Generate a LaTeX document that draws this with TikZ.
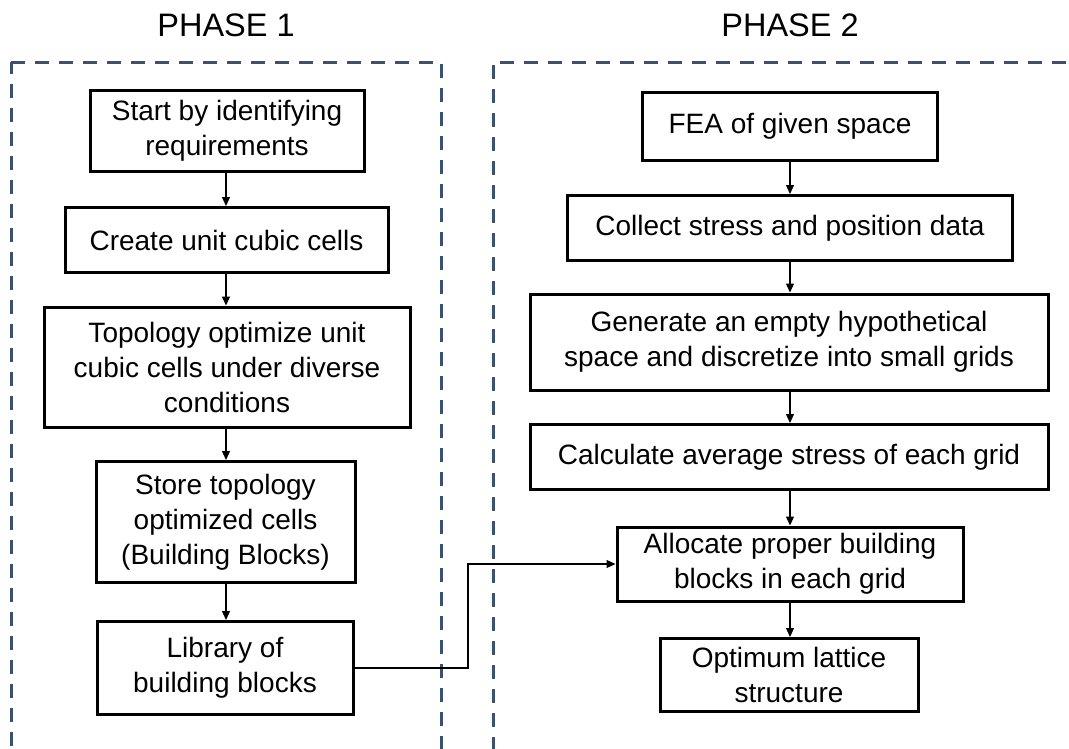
\documentclass[tikz,border=0pt]{standalone}
\usepackage{fontspec}
\setmainfont{Liberation Sans}
\usetikzlibrary{arrows.meta}
\begin{document}
\begin{tikzpicture}[x=1pt,y=-1pt,
  stepbox/.style={draw=black,line width=3pt,align=center,font=\fontsize{28}{35}\selectfont,inner sep=0pt,minimum height=#1},
  stepbox/.default=65pt,
  link/.style={line width=1.2pt,-{Triangle[length=9pt,width=8pt]}},
  phase/.style={draw=frame,line width=3pt,dash pattern=on 14pt off 10pt},
  title/.style={font=\fontsize{32.5}{36}\selectfont}
]
\definecolor{frame}{HTML}{3A5174}
\useasboundingbox (0,0) rectangle (1069,748);
\fill[white] (0,0) rectangle (1069,748);
\clip (0,0) rectangle (1069,748);
% phase frames
\draw[phase] (11,62) -- (441,62) -- (441,770);
\draw[phase] (11,770) -- (11,62);
\draw[phase] (1090,62) -- (493,62) -- (493,770);
\node[title] (p1) at (226,25) {PHASE 1};
\node[title] (p2) at (790,25) {PHASE 2};
% left column
\node[stepbox=81pt,minimum width=274pt] (a1) at (227,131) {Start by identifying\\requirements};
\node[stepbox=65pt,minimum width=323pt] (a2) at (226.5,240) {Create unit cubic cells};
\node[stepbox=120pt,minimum width=366pt] (a3) at (227,367) {Topology optimize unit\\cubic cells under diverse\\conditions};
\node[stepbox=121pt,minimum width=259pt] (a4) at (225.5,522) {Store topology\\optimized cells\\(Building Blocks)};
\node[stepbox=93pt,minimum width=256pt] (a5) at (225,668) {Library of\\building blocks};
% right column
\node[stepbox=68pt,minimum width=295pt] (b1) at (790,126) {FEA of given space};
\node[stepbox=65pt,minimum width=445pt] (b2) at (790,228) {Collect stress and position data};
\node[stepbox=96pt,minimum width=518pt] (b3) at (789,342) {Generate an empty hypothetical\\space and discretize into small grids};
\node[stepbox=65pt,minimum width=518pt] (b4) at (789,457) {Calculate average stress of each grid};
\node[stepbox=74pt,minimum width=346pt] (b5) at (790,564) {Allocate proper building\\blocks in each grid};
\node[stepbox=73pt,minimum width=258pt] (b6) at (789,675) {Optimum lattice\\structure};
% arrows
\draw[link] (a1.south -| 226,0) -- (a2.north -| 226,0);
\draw[link] (a2.south -| 226,0) -- (a3.north -| 226,0);
\draw[link] (a3.south -| 226,0) -- (a4.north -| 226,0);
\draw[link] (a4.south -| 226,0) -- (a5.north -| 226,0);
\draw[link] (b1.south -| 790,0) -- (b2.north -| 790,0);
\draw[link] (b2.south -| 790,0) -- (b3.north -| 790,0);
\draw[link] (b3.south -| 790,0) -- (b4.north -| 790,0);
\draw[link] (b4.south -| 790,0) -- (b5.north -| 790,0);
\draw[link] (b5.south -| 790,0) -- (b6.north -| 790,0);
\coordinate (bend) at (468,668);
\draw[link] (a5.east) -- (bend) |- (b5.west);
\end{tikzpicture}
\end{document}
